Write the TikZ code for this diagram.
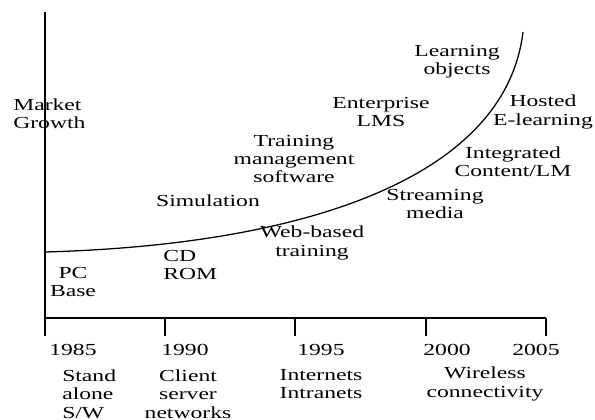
\documentclass[tikz,border=0pt]{standalone}
\usepackage{fontspec}
\setmainfont[FakeStretch=1.4]{Liberation Serif}
\begin{document}
\begin{tikzpicture}[x=0.025cm,y=0.025cm,
lbl/.style={inner sep=0pt,align=center,font=\fontsize{12}{13}\selectfont},
axis/.style={line width=1.2pt}]
\useasboundingbox (0,0) rectangle (595,420);
% axes
\coordinate (top) at (45,408);
\coordinate (o) at (45,102);
\coordinate (right) at (546,102);
\draw[axis] (top)--(o)--(right);
\foreach \x in {45,165,295,426,546}{
\draw[axis] (\x,102)--(\x,84);
}
% growth curve
\coordinate (start) at (45,168);
\coordinate (tip) at (523,388);
\draw[line width=0.9pt] (start) .. controls (300,175) and (505,240) .. (tip);
% y label
\node[lbl,anchor=west,align=left] (growth) at (13,306) {Market\\Growth};
% technologies
\node[lbl] (lo) at (457,358) {Learning\\objects};
\node[lbl] (lms) at (381,308) {Enterprise\\LMS};
\node[lbl] (hosted) at (543,308) {Hosted\\E-learning};
\node[lbl] (integ) at (513,258) {Integrated\\Content/LM};
\node[lbl] (stream) at (435,216) {Streaming\\media};
\node[lbl] (tms) at (294,261) {Training\\management\\software};
\node[lbl] (sim) at (208,219) {Simulation};
\node[lbl] (web) at (312,177) {Web-based\\training};
\node[lbl,anchor=west,align=left] (cd) at (163,155) {CD\\ROM};
\node[lbl] (pc) at (73,138) {PC\\Base};
% years
\foreach \x/\yr in {73/1985,185/1990,321/1995,447/2000,536/2005}{
\node[lbl] (y\yr) at (\x,70) {\yr};
}
% platforms
\node[lbl,anchor=west,align=left] (stand) at (62,26) {Stand\\alone\\S/W};
\node[lbl] (client) at (188,26) {Client\\server\\networks};
\node[lbl] (inet) at (321,36) {Internets\\Intranets};
\node[lbl] (wless) at (485,36) {Wireless\\connectivity};
\end{tikzpicture}
\end{document}
